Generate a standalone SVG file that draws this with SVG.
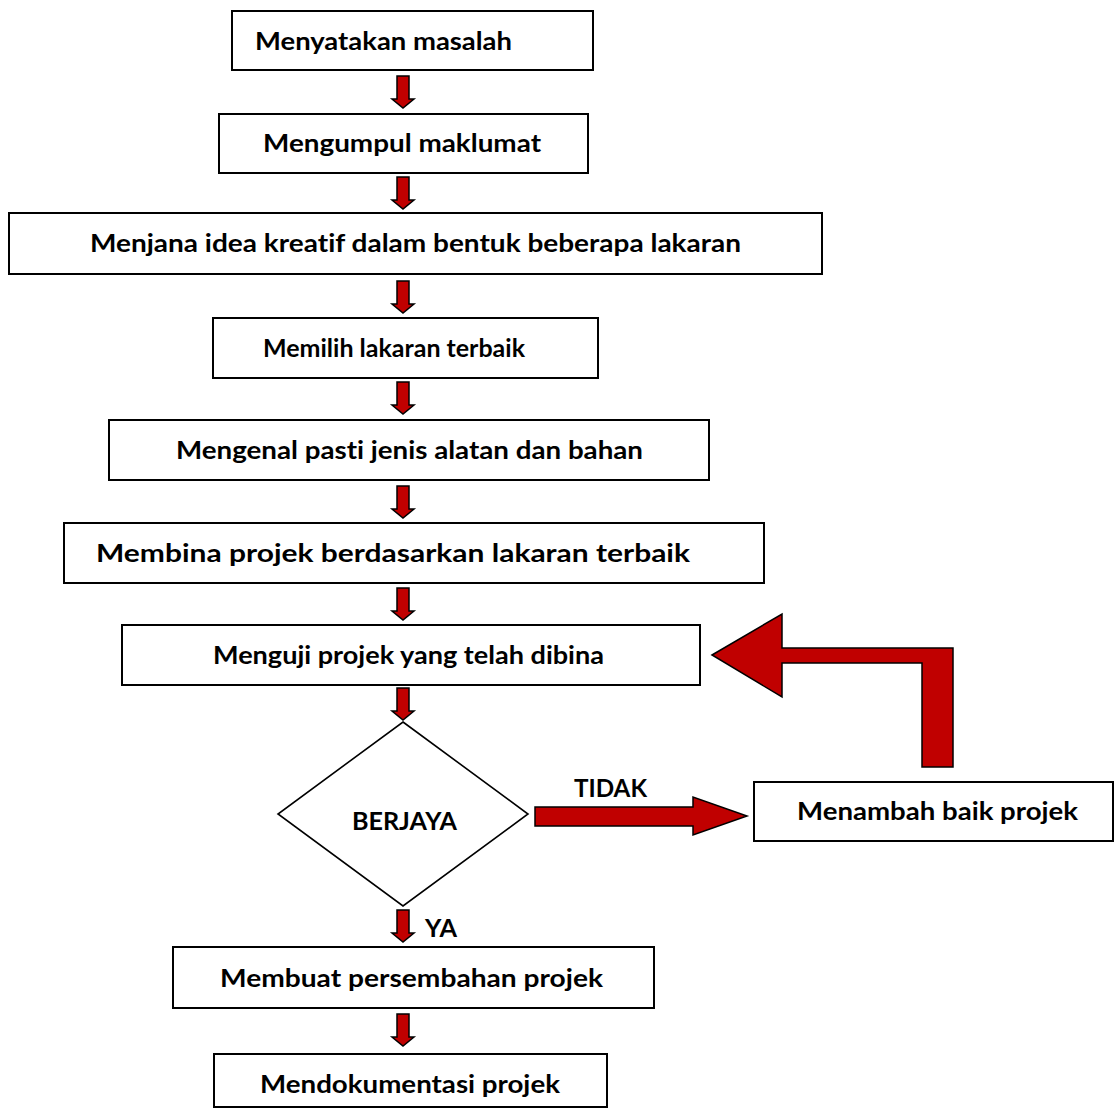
<svg xmlns="http://www.w3.org/2000/svg" xmlns:xlink="http://www.w3.org/1999/xlink" width="1115" height="1109" viewBox="0 0 1115 1109">
  <style>
    .box { fill: #ffffff; stroke: #000000; stroke-width: 2; }
    .dec { fill: #ffffff; stroke: #000000; stroke-width: 1.6; }
    .lbl { font-family: Lato, "Liberation Sans", sans-serif; font-weight: 700; font-size: 25.5px; fill: #000000; text-anchor: middle; font-variant-ligatures: none; font-feature-settings: "liga" 0, "dlig" 0; }
    .arr { fill: #C00000; stroke: #000000; stroke-width: 1.5; stroke-linejoin: miter; }
  </style>
  <defs>
    <!-- short block arrow pointing down, origin at top centre -->
    <path id="down" class="arr" d="M-6,0 H6 V23 H11 L0,32 L-11,23 H-6 Z"/>
  </defs>
  <rect width="1115" height="1109" fill="#ffffff"/>

  <g id="n1"><rect class="box" x="232" y="11" width="361" height="59"/><text class="lbl" x="383.5" y="50" textLength="257" lengthAdjust="spacingAndGlyphs">Menyatakan masalah</text></g>
  <g id="n2"><rect class="box" x="219" y="114" width="369" height="59"/><text class="lbl" x="402" y="152" textLength="278" lengthAdjust="spacingAndGlyphs">Mengumpul maklumat</text></g>
  <g id="n3"><rect class="box" x="9" y="213" width="813" height="61"/><text class="lbl" x="415.5" y="252" textLength="651" lengthAdjust="spacingAndGlyphs">Menjana idea kreatif dalam bentuk beberapa lakaran</text></g>
  <g id="n4"><rect class="box" x="213" y="318" width="385" height="60"/><text class="lbl" x="394" y="357" textLength="262" lengthAdjust="spacingAndGlyphs">Memilih lakaran terbaik</text></g>
  <g id="n5"><rect class="box" x="109" y="420" width="600" height="60"/><text class="lbl" x="409.5" y="459" textLength="467" lengthAdjust="spacingAndGlyphs">Mengenal pasti jenis alatan dan bahan</text></g>
  <g id="n6"><rect class="box" x="64" y="523" width="700" height="60"/><text class="lbl" x="393" y="562" textLength="594" lengthAdjust="spacingAndGlyphs">Membina projek berdasarkan lakaran terbaik</text></g>
  <g id="n7"><rect class="box" x="122" y="625" width="578" height="60"/><text class="lbl" x="408.5" y="664" textLength="391" lengthAdjust="spacingAndGlyphs">Menguji projek yang telah dibina</text></g>
  <g id="n8"><polygon class="dec" points="403,722 528,814 403,906 278,814"/><text class="lbl" x="404.5" y="830" textLength="105" lengthAdjust="spacingAndGlyphs">BERJAYA</text></g>
  <g id="n9"><rect class="box" x="754" y="782" width="359" height="59"/><text class="lbl" x="937.5" y="820" textLength="281" lengthAdjust="spacingAndGlyphs">Menambah baik projek</text></g>
  <g id="n10"><rect class="box" x="173" y="947" width="481" height="61"/><text class="lbl" x="411.5" y="987" textLength="383" lengthAdjust="spacingAndGlyphs">Membuat persembahan projek</text></g>
  <g id="n11"><rect class="box" x="214" y="1054" width="393" height="53"/><text class="lbl" x="410" y="1093" textLength="300" lengthAdjust="spacingAndGlyphs">Mendokumentasi projek</text></g>

  <g id="connectors">
    <use xlink:href="#down" x="403" y="76"/>
    <use xlink:href="#down" x="403" y="177"/>
    <use xlink:href="#down" x="403" y="281"/>
    <use xlink:href="#down" x="403" y="382"/>
    <use xlink:href="#down" x="403" y="486"/>
    <use xlink:href="#down" x="403" y="588"/>
    <use xlink:href="#down" x="403" y="688"/>
    <use xlink:href="#down" x="403" y="910"/>
    <use xlink:href="#down" x="403" y="1014"/>
    <!-- TIDAK branch -->
    <polygon class="arr" points="535,807 693,807 693,797 747,816 693,835 693,826 535,826"/>
    <!-- loop back to testing -->
    <polygon class="arr" points="712,655 782,614 782,648 953,648 953,767 922,767 922,663 782,663 782,697"/>
    <text class="lbl" x="610.5" y="797" textLength="73" lengthAdjust="spacingAndGlyphs">TIDAK</text>
    <text class="lbl" x="441" y="937" textLength="32" lengthAdjust="spacingAndGlyphs">YA</text>
  </g>
</svg>
